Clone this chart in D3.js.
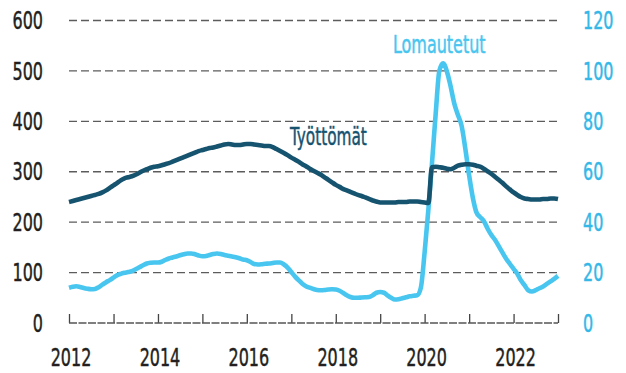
<!DOCTYPE html>
<html>
<head>
<meta charset="utf-8">
<script src="https://cdn.jsdelivr.net/npm/d3@7"></script>
<style>
  html, body { margin: 0; padding: 0; background: #fff; }
  svg { display: block; }
  text { font-family: "Liberation Sans Narrow", "DejaVu Sans Condensed", "Roboto", sans-serif; }
</style>
</head>
<body>
<svg id="chart" width="626" height="373"></svg>
<script>
// Työttömät (tuhatta, vasen asteikko), kuukausittain 2012-01 ... 2023-01
const tyottomat = [
  240, 242, 244, 246, 248, 250, 252, 254, 256, 259, 263, 268,
  273, 278, 283, 287, 289, 291, 294, 298, 302, 305, 308, 310,
  311, 313, 315, 317, 320, 323, 326, 329, 332, 335, 338, 341,
  343, 345, 347, 348, 350, 352, 354, 355, 354, 353, 353, 354,
  355, 355, 354, 353, 352, 351, 351, 349, 345, 341, 337, 333,
  328, 324, 320, 315, 311, 306, 302, 298, 294, 289, 284, 279,
  274, 270, 266, 263, 260, 257, 254, 252, 249, 246, 243, 241,
  239, 239, 239, 239, 239, 240, 240, 240, 241, 241, 241, 240,
  239, 238, 309, 310, 309, 308, 306, 305, 308, 312, 314, 315,
  315, 314, 312, 310, 306, 301, 296, 290, 284, 278, 271, 265,
  259, 254, 250, 247, 246, 245, 245, 245, 246, 246, 247, 247,
  246
];

// Lomautetut (tuhatta, oikea asteikko)
const lomautetut = [
  14.0, 14.4, 14.6, 14.3, 13.9, 13.6, 13.4, 13.5, 14.2, 15.2, 16.2, 17.0,
  18.0, 19.0, 19.5, 19.9, 20.2, 20.6, 21.3, 22.1, 22.9, 23.6, 23.9, 24.0,
  24.0, 24.3, 25.0, 25.6, 26.0, 26.4, 26.9, 27.3, 27.6, 27.6, 27.3, 26.8,
  26.5, 26.6, 27.0, 27.4, 27.6, 27.4, 27.0, 26.7, 26.4, 26.1, 25.7, 25.2,
  24.9, 24.2, 23.4, 23.2, 23.3, 23.5, 23.6, 23.8, 24.0, 24.0, 23.2, 22.0,
  20.2, 18.4, 17.0, 15.6, 14.6, 14.0, 13.5, 13.1, 13.0, 13.1, 13.3, 13.4,
  13.3, 12.8, 12.0, 11.0, 10.3, 10.0, 10.0, 10.1, 10.2, 10.3, 11.0, 12.0,
  12.3, 12.0, 11.0, 10.0, 9.3, 9.4, 9.8, 10.2, 10.6, 10.8, 11.0, 14.0,
  28, 45, 63, 83, 100, 103, 100, 94, 87, 82.5, 78, 69,
  58.5, 49.5, 44, 42, 40.5, 37.5, 35, 33, 30.5, 28, 25.5, 23.5,
  21.5, 19.5, 17, 15, 13, 12.5, 13, 13.8, 14.5, 15.5, 16.5, 17.5,
  18.7
];

const months = d3.timeMonth.range(new Date(2012, 0, 1), new Date(2023, 1, 1));
const leftTicks = [0, 100, 200, 300, 400, 500, 600];
const rightTicks = [0, 20, 40, 60, 80, 100, 120];
const yearLabels = [2012, 2014, 2016, 2018, 2020, 2022];

const dark = "#16536f";
const light = "#48c6f0";
const rightText = "#33b8e8";
const ink = "#231f20";

const svg = d3.select("#chart");

const x = d3.scaleTime()
  .domain([new Date(2012, 0, 1), new Date(2023, 0, 1)])
  .range([69, 558]);
const yL = d3.scaleLinear().domain([0, 600]).range([323, 20.5]);
const yR = d3.scaleLinear().domain([0, 120]).range([323, 20.5]);

// narrow the glyphs so the labels read as a condensed face,
// and give them a hairline outline for a little extra weight
function condense(sel, k) {
  sel.each(function () {
    const w = this.getComputedTextLength();
    const t = d3.select(this);
    t.attr("textLength", w * k)
      .attr("lengthAdjust", "spacingAndGlyphs")
      .attr("stroke", t.attr("fill"))
      .attr("stroke-width", 0.45);
  });
}

// dashed gridlines
svg.append("g")
  .selectAll("line")
  .data(leftTicks.filter(d => d > 0))
  .join("line")
  .attr("x1", x.range()[0]).attr("x2", x.range()[1])
  .attr("y1", d => yL(d)).attr("y2", d => yL(d))
  .attr("stroke", "#5c5c5c")
  .attr("stroke-width", 1.3)
  .attr("stroke-dasharray", "8,4");

// baseline with yearly ticks
const xAxis = d3.axisBottom(x)
  .ticks(d3.timeYear.every(1))
  .tickSize(-9)
  .tickFormat("");
const gx = svg.append("g").attr("transform", `translate(0,${yL(0)})`).call(xAxis);
gx.select(".domain").remove();
gx.selectAll(".tick line").attr("stroke", "#444").attr("stroke-width", 1.3);
svg.append("line")
  .attr("x1", x.range()[0]).attr("x2", x.range()[1])
  .attr("y1", yL(0)).attr("y2", yL(0))
  .attr("stroke", "#555").attr("stroke-width", 1.3)
  .attr("stroke-dasharray", "8,1.5");

const K = 0.74;

// year labels
const xl = svg.append("g")
  .selectAll("text")
  .data(yearLabels)
  .join("text")
  .attr("x", d => x(new Date(d, 0, 1)) + 2)
  .attr("y", 366)
  .attr("text-anchor", "middle")
  .attr("font-size", 24)
  .attr("fill", ink)
  .text(d => d);
condense(xl, K);

// left axis labels
const ll = svg.append("g")
  .selectAll("text")
  .data(leftTicks)
  .join("text")
  .attr("x", 43)
  .attr("y", d => yL(d))
  .attr("dy", "0.36em")
  .attr("text-anchor", "end")
  .attr("font-size", 24)
  .attr("fill", ink)
  .text(d => d);
condense(ll, K);

// right axis labels
const rl = svg.append("g")
  .selectAll("text")
  .data(rightTicks)
  .join("text")
  .attr("x", 583)
  .attr("y", d => yR(d))
  .attr("dy", "0.36em")
  .attr("text-anchor", "start")
  .attr("font-size", 24)
  .attr("fill", rightText)
  .text(d => d);
condense(rl, K);

// series lines
const lineL = d3.line()
  .x((d, i) => x(months[i]))
  .y(d => yL(d))
  .curve(d3.curveMonotoneX);
const lineR = d3.line()
  .x((d, i) => x(months[i]))
  .y(d => yR(d))
  .curve(d3.curveMonotoneX);

svg.append("path")
  .datum(lomautetut)
  .attr("d", lineR)
  .attr("fill", "none")
  .attr("stroke", light)
  .attr("stroke-width", 4.6)
  .attr("stroke-linejoin", "round");

svg.append("path")
  .datum(tyottomat)
  .attr("d", lineL)
  .attr("fill", "none")
  .attr("stroke", dark)
  .attr("stroke-width", 4.6)
  .attr("stroke-linejoin", "round");

// series labels
const t1 = svg.append("text")
  .attr("x", 290).attr("y", 145)
  .attr("font-size", 24)
  .attr("fill", dark)
  .text("Työttömät");
condense(t1, 0.71);

const t2 = svg.append("text")
  .attr("x", 393).attr("y", 53)
  .attr("font-size", 24)
  .attr("fill", light)
  .text("Lomautetut");
condense(t2, K);
</script>
</body>
</html>
